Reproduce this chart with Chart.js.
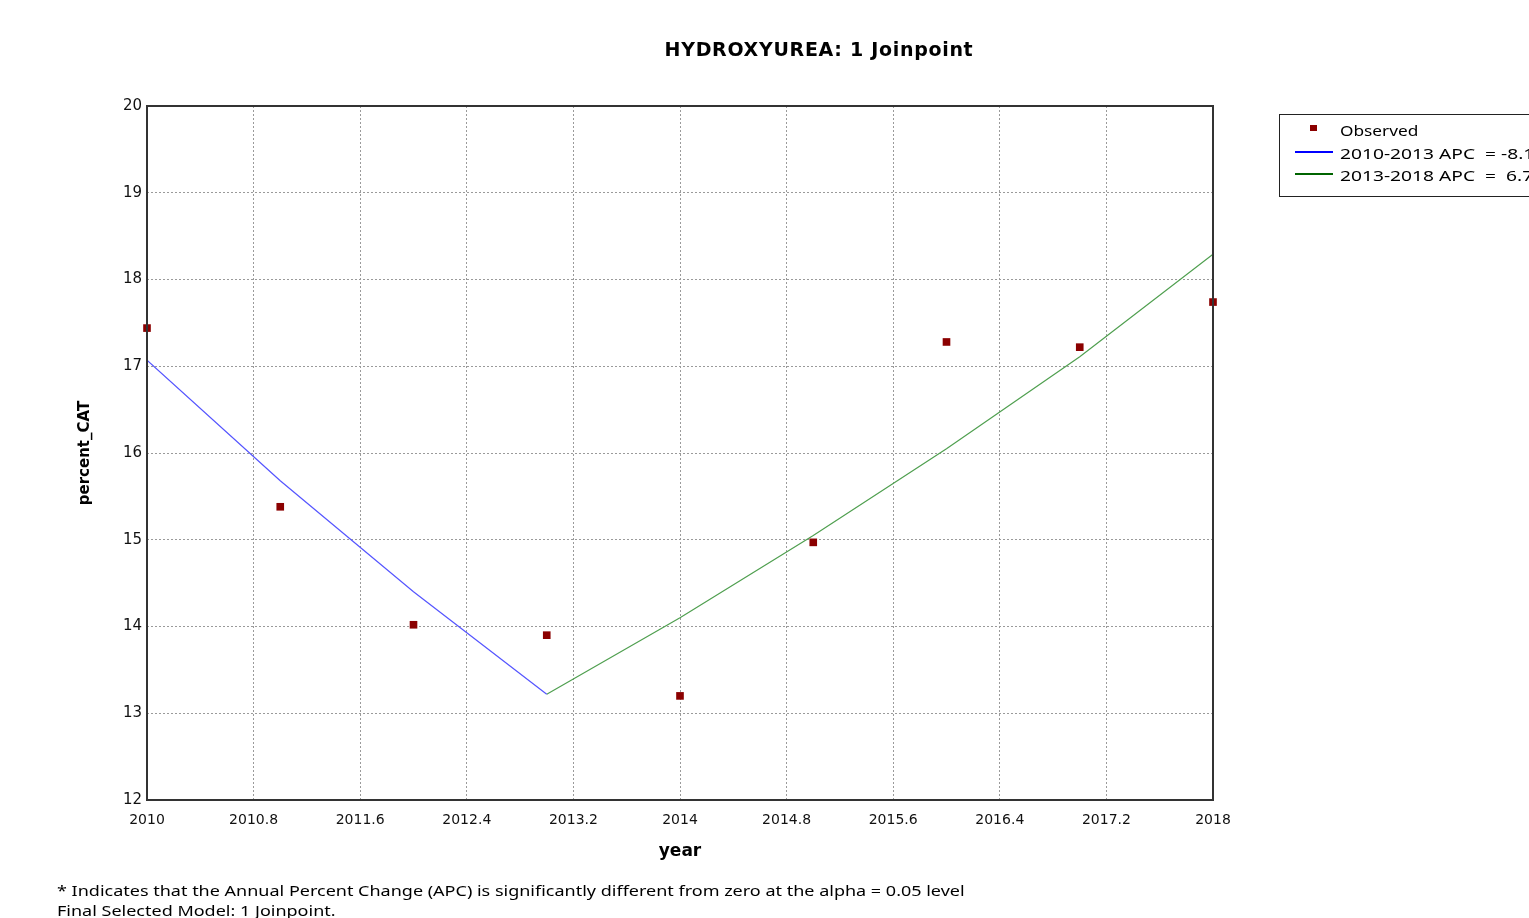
<!DOCTYPE html>
<html>
<head>
<meta charset="utf-8">
<script src="https://cdn.jsdelivr.net/npm/chart.js@4.4.1/dist/chart.umd.min.js"></script>
<style>
  html, body { margin: 0; padding: 0; background: #fff; overflow: hidden; }
  #wrap { position: relative; width: 1529px; height: 918px; overflow: hidden; }
  #chart { position: absolute; left: 0; top: 0; }
  .title { position: absolute; left: 0; top: 38px; width: 1638px; text-align: center;
    font: bold 19px "DejaVu Sans", sans-serif; color: #000; letter-spacing: 0.7px; }
  .foot { position: absolute; left: 57px; font: 15px "Noto Sans", sans-serif; color: #000; white-space: nowrap;
    transform: scaleX(1.2); transform-origin: left top; }
  .legend { position: absolute; left: 1279px; top: 114px; width: 300px; height: 83px;
    border: 1px solid #222; box-sizing: border-box; font: 15px "Noto Sans", sans-serif; }
  .row { position: absolute; left: 0; white-space: nowrap; }
  .row span.txt { position: absolute; left: 60px; top: 0; transform: scaleX(1.15); transform-origin: left top; }
  .row span.txt.wide { transform: scaleX(1.28); }
  .mark { position: absolute; left: 30px; top: 5px; width: 7px; height: 6px; background: #8b0000; }
  .ln { position: absolute; left: 15px; top: 8px; width: 38px; height: 2px; }
</style>
</head>
<body>
<div id="wrap">
  <canvas id="chart" width="1529" height="918"></canvas>
  <div class="title">HYDROXYUREA: 1 Joinpoint</div>
  <div class="legend">
    <div class="row" style="top:5px"><div class="mark"></div><span class="txt">Observed</span></div>
    <div class="row" style="top:28px"><div class="ln" style="background:#0000ff"></div><span class="txt wide">2010-2013 APC&nbsp; = -8.1</span></div>
    <div class="row" style="top:50px"><div class="ln" style="background:#006400"></div><span class="txt wide">2013-2018 APC&nbsp; =&nbsp; 6.7</span></div>
  </div>
  <div class="foot" style="top:880px">* Indicates that the Annual Percent Change (APC) is significantly different from zero at the alpha = 0.05 level</div>
  <div class="foot" style="top:900px">Final Selected Model: 1 Joinpoint.</div>
</div>
<script>
const years = [2010, 2011, 2012, 2013, 2014, 2015, 2016, 2017, 2018];
const observed = [17.44, 15.38, 14.02, 13.90, 13.20, 14.97, 17.28, 17.22, 17.74];
const seg1Years = [2010, 2011, 2012, 2013];
const seg1Fit = [17.07, 15.68, 14.40, 13.22];
const seg2Years = [2013, 2014, 2015, 2016, 2017, 2018];
const seg2Fit = [13.22, 14.10, 15.05, 16.05, 17.11, 18.29];
const xTicks = [2010, 2010.8, 2011.6, 2012.4, 2013.2, 2014, 2014.8, 2015.6, 2016.4, 2017.2, 2018];
const yTicks = [12, 13, 14, 15, 16, 17, 18, 19, 20];

const pairs = (xs, ys) => xs.map((x, i) => ({ x: x, y: ys[i] }));

const frame = {
  id: 'frame',
  afterDatasetsDraw(chart) {
    const a = chart.chartArea;
    const ctx = chart.ctx;
    ctx.save();
    ctx.strokeStyle = '#333';
    ctx.lineWidth = 2;
    ctx.strokeRect(a.left, a.top, a.right - a.left, a.bottom - a.top);
    ctx.restore();
  }
};

const gridOpts = { color: '#9a9a9a', drawTicks: false, lineWidth: 1 };
const borderOpts = { display: false, dash: [2, 2] };

new Chart(document.getElementById('chart').getContext('2d'), {
  type: 'scatter',
  data: {
    datasets: [
      {
        label: '2010-2013',
        data: pairs(seg1Years, seg1Fit),
        showLine: true,
        borderColor: '#5555ff',
        borderWidth: 1.2,
        pointRadius: 0,
        order: 2
      },
      {
        label: '2013-2018',
        data: pairs(seg2Years, seg2Fit),
        showLine: true,
        borderColor: '#4f9f4f',
        borderWidth: 1.2,
        pointRadius: 0,
        order: 2
      },
      {
        label: 'Observed',
        data: pairs(years, observed),
        pointStyle: 'rect',
        pointRadius: 5.4,
        backgroundColor: '#8b0000',
        borderColor: '#8b0000',
        borderWidth: 0,
        clip: false,
        order: 1
      }
    ]
  },
  options: {
    responsive: false,
    animation: false,
    layout: { padding: { left: 76, top: 106, right: 316, bottom: 56 } },
    plugins: {
      legend: { display: false },
      tooltip: { enabled: false }
    },
    scales: {
      x: {
        type: 'linear',
        min: 2010,
        max: 2018,
        afterFit: (s) => { s.height = 62; },
        afterBuildTicks: (s) => { s.ticks = xTicks.map(v => ({ value: v })); },
        grid: gridOpts,
        border: borderOpts,
        ticks: {
          padding: 12,
          color: '#111',
          font: { family: 'DejaVu Sans', size: 14 },
          maxRotation: 0,
          callback: (v) => String(Math.round(v * 10) / 10)
        },
        title: {
          display: true,
          text: 'year',
          color: '#000',
          font: { family: 'DejaVu Sans', size: 17, weight: 'bold' },
          padding: { top: 4, bottom: 0 }
        }
      },
      y: {
        min: 12,
        max: 20,
        afterFit: (s) => { s.width = 71; },
        afterBuildTicks: (s) => { s.ticks = yTicks.map(v => ({ value: v })); },
        grid: gridOpts,
        border: borderOpts,
        ticks: {
          padding: 5,
          color: '#111',
          font: { family: 'DejaVu Sans', size: 15 }
        },
        title: {
          display: true,
          text: 'percent_CAT',
          color: '#000',
          font: { family: 'DejaVu Sans', size: 15, weight: 'bold' },
          padding: { top: 0, bottom: 0 }
        }
      }
    }
  },
  plugins: [frame]
});
</script>
</body>
</html>
